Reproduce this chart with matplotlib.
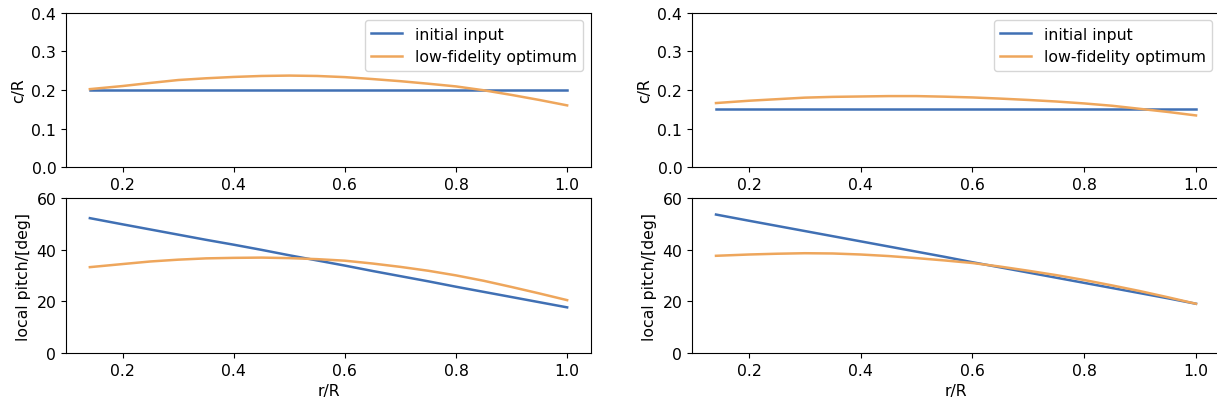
import numpy as np
import matplotlib
matplotlib.use('Agg')
import matplotlib.pyplot as plt

plt.rcParams['font.size'] = 11.3

# radial stations (r/R)
r = [0.141, 0.2, 0.25, 0.3, 0.35, 0.4, 0.45, 0.5, 0.55, 0.6,
     0.65, 0.7, 0.75, 0.8, 0.85, 0.9, 0.95, 1.0]

# left case
chord_init_a = [0.2] * len(r)
chord_opt_a = [0.202, 0.210, 0.218, 0.2255, 0.230, 0.2335, 0.236, 0.237, 0.236, 0.233,
               0.228, 0.2225, 0.216, 0.209, 0.199, 0.187, 0.174, 0.160]
pitch_init_a = [52.3, 49.9, 47.9, 45.9, 43.9, 42.0, 40.0, 37.9, 35.9, 33.9,
                31.8, 29.8, 27.8, 25.7, 23.7, 21.7, 19.7, 17.7]
pitch_opt_a = [33.3, 34.5, 35.5, 36.2, 36.7, 36.9, 37.0, 36.8, 36.4, 35.8,
               34.7, 33.4, 31.9, 30.1, 28.0, 25.6, 23.1, 20.5]

# right case
chord_init_b = [0.15] * len(r)
chord_opt_b = [0.166, 0.172, 0.176, 0.180, 0.182, 0.183, 0.184, 0.184, 0.1825, 0.1805,
               0.1775, 0.174, 0.170, 0.165, 0.159, 0.151, 0.143, 0.134]
pitch_init_b = [53.7, 51.3, 49.3, 47.3, 45.3, 43.3, 41.3, 39.3, 37.3, 35.2,
                33.2, 31.2, 29.2, 27.2, 25.2, 23.2, 21.2, 19.1]
pitch_opt_b = [37.7, 38.2, 38.5, 38.7, 38.6, 38.2, 37.6, 36.8, 35.9, 34.9,
               33.5, 31.9, 30.2, 28.3, 26.2, 24.0, 21.6, 19.1]

c_init = '#4070b4'
c_opt = '#eea65c'

W, H = 1217, 406
fig = plt.figure(figsize=(W / 100, H / 100), dpi=100)


def px_axes(x0, x1, ytop, ybot):
    return fig.add_axes([x0 / W, 1 - ybot / H, (x1 - x0) / W, (ybot - ytop) / H])


cases = [
    (66, 591, chord_init_a, chord_opt_a, pitch_init_a, pitch_opt_a),
    (692, 1220, chord_init_b, chord_opt_b, pitch_init_b, pitch_opt_b),
]

for x0, x1, ci, co, pi, po in cases:
    ax1 = px_axes(x0, x1, 13.5, 168.3)
    ax1.plot(r, ci, color=c_init, lw=1.8, label='initial input')
    ax1.plot(r, co, color=c_opt, lw=1.8, label='low-fidelity optimum')
    ax1.set_ylim(0, 0.4)
    ax1.set_yticks([0.0, 0.1, 0.2, 0.3, 0.4])
    ax1.set_ylabel('c/R')
    ax1.legend(loc='upper right')

    ax2 = px_axes(x0, x1, 199.3, 354)
    ax2.plot(r, pi, color=c_init, lw=1.8)
    ax2.plot(r, po, color=c_opt, lw=1.8)
    ax2.set_ylim(0, 60)
    ax2.set_yticks([0, 20, 40, 60])
    ax2.set_ylabel('local pitch/[deg]')
    ax2.set_xlabel('r/R')

    for ax in (ax1, ax2):
        ax.set_xticks([0.2, 0.4, 0.6, 0.8, 1.0])

fig.savefig('out.png', dpi=100)
